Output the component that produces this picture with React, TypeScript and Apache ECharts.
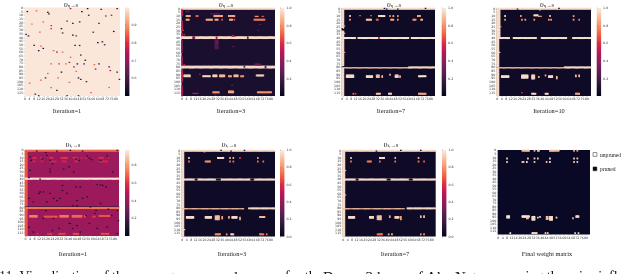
import React, { useEffect, useRef } from "react";
import * as echarts from "echarts";

type Span = [number, number, number, number, number];
type Dot = [number, number, number];

const colLabels = Array.from({ length: 84 }, (_, i) => String(i));
const rowLabels = Array.from({ length: 120 }, (_, i) => String(i));
const rocket = ["#03051a", "#221331", "#451c47", "#6a1f56", "#921c5b", "#b91657", "#dd2c45", "#f06043", "#f5936a", "#f6bfa0", "#faebdd"];

const captions = ["Iteration=1", "Iteration=3", "Iteration=7", "Iteration=10", "Iteration=1", "Iteration=3", "Iteration=7", "Final weight matrix"];
const titleSubs = ["η→8", "η→8", "η→8", "η→8", "f₁→8", "f₁→8", "f₁→8"];
const titleCentres = [71, 226, 394, 547, 73, 229, 391];
const footerTexts = ["11: Visualization of the messages", "and", "for the", "Dense-3 layer of AlexNet,", "using the prior influence"];
const legendNames = ["unpruned", "pruned"];

const dots1: Dot[] = [[2,5,.55],[10,4,.85],[20,6,.55],[21,8,.6],[40,1,.7],[55,1,.55],[50,5,.55],[67,2,.6],[81,1,.6],[56,10,.6],[71,11,.7],[76,10,.7],[6,22,.88],[16,19,.85],[37,18,.7],[42,21,.6],[48,19,.6],[65,21,.65],[23,24,.8],[23,28,.8],[32,28,.55],[33,34,.6],[42,37,.55],[45,38,.7],[13,33,.85],[1,36,.6],[3,38,.55],[78,32,.55],[60,33,.6],[64,47,.55],[68,46,.55],[70,50,.6],[44,51,.6],[48,51,.6],[8,51,.6],[14,52,.85],[16,55,.55],[12,58,.55],[25,58,.85],[28,60,.7],[33,60,.85],[49,64,.6],[40,67,.85],[23,76,.85],[30,76,.8],[36,76,.85],[39,74,.7],[46,76,.55],[52,76,.6],[53,71,.55],[61,77,.85],[65,76,.6],[62,83,.7],[74,80,.6],[75,85,.7],[43,80,.7],[32,87,.55],[45,86,.85],[81,87,.6],[20,89,.85],[18,95,.6],[14,98,.85],[29,95,.85],[47,95,.55],[49,97,.6],[54,100,.6],[83,97,.6],[4,102,.85],[39,101,.85],[23,108,.85],[28,112,.6],[37,119,.7],[47,119,.7],[9,117,.6],[12,119,.7],[58,115,.85],[74,108,.85]];
const spans1: Span[] = [];

const spans2: Span[] = [[0,83,0,1,.97],[0,0,2,10,.55],[0,0,18,30,.55],[0,0,34,38,.5],[0,0,44,60,.35],[0,0,66,78,.45],[0,0,84,100,.55],[0,0,106,119,.5],[0,83,39,41,.97],[0,83,79,81,.97],[10,11,39,41,.35],[31,31,39,41,.45],[59,59,39,41,.3],[56,56,79,80,.2],[75,75,79,81,.2],[4,7,10,11,.85],[13,14,10,11,.7],[29,36,10,11,.85],[42,47,10,11,.85],[66,68,11,11,.8],[72,73,11,11,.65],[4,6,15,16,.85],[22,27,15,16,.85],[30,32,15,16,.85],[36,36,15,16,.65],[43,45,15,16,.85],[47,47,15,16,.65],[65,74,15,16,.75],[2,7,91,93,.95],[19,25,92,93,.95],[28,31,91,93,.95],[34,38,91,93,.9],[42,44,92,93,.85],[47,50,91,93,.9],[53,55,92,93,.8],[67,73,91,92,.95],[28,33,114,115,.8],[42,46,113,115,.85],[68,80,114,115,.8],[10,14,116,116,.5],[30,32,43,55,.24],[45,47,38,38,.45],[66,70,76,77,.3],[4,6,3,5,.2],[26,33,7,8,.2]];
const dots2: Dot[] = [[46,37,.55],[2,36,.6],[1,30,.6],[31,46,.4],[46,52,.3],[2,77,.6],[70,22,.3],[68,30,.25],[16,90,.5],[30,118,.3],[45,105,.3]];

const spans3: Span[] = [[0,83,0,1,.97],[0,1,2,27,.97],[0,1,31,78,.97],[0,83,40,41,.99],[13,13,40,41,.1],[33,33,40,41,.5],[61,61,40,41,.1],[0,59,81,81,.9],[60,83,80,81,.97],[0,1,82,119,.97],[7,7,10,11,.95],[16,16,10,10,.7],[26,26,10,10,.7],[33,38,10,11,.98],[43,43,10,11,.8],[46,46,10,11,.85],[50,50,10,11,.8],[68,70,10,11,.85],[7,7,15,16,.8],[22,26,15,16,.92],[31,32,15,16,.7],[44,46,15,16,.85],[50,50,15,16,.8],[64,66,15,16,.8],[71,72,15,16,.85],[4,10,91,94,.97],[22,27,92,94,.97],[31,33,91,94,.9],[36,36,92,94,.9],[43,43,90,91,.85],[48,50,91,94,.95],[52,52,92,94,.85],[69,75,92,93,.98],[10,10,116,117,.7],[12,12,116,117,.6],[31,34,116,117,.9],[42,44,116,117,.95],[69,75,116,117,.85]];
const dots3: Dot[] = [[0,28,.05],[1,29,.05],[2,34,.9],[2,24,.8],[75,0,.1],[50,1,.1],[40,1,.1],[38,0,.1],[2,60,.8]];

const spans4: Span[] = [[0,83,0,1,.97],[0,2,2,39,.97],[0,83,40,41,.98],[0,1,42,79,.97],[12,13,40,41,.05],[36,38,40,41,.05],[63,66,40,41,.05],[0,59,81,81,.9],[60,83,80,81,.97],[0,1,82,119,.97],[7,7,10,11,.95],[21,21,10,11,.8],[33,36,9,10,.98],[37,39,11,11,.8],[47,47,10,11,.9],[68,68,10,11,.8],[7,7,15,16,.8],[22,22,15,16,.8],[25,25,15,16,.8],[33,33,15,16,.8],[46,46,15,16,.8],[48,48,15,16,.8],[68,68,15,16,.8],[73,73,15,16,.75],[4,10,92,94,.98],[22,27,91,95,.98],[31,33,91,96,.95],[37,37,93,94,.85],[43,43,91,92,.85],[46,49,92,94,.97],[53,53,93,96,.9],[70,70,91,93,.9],[73,73,91,93,.9],[31,34,116,117,.95],[43,45,116,117,.95],[70,73,116,117,.85]];
const dots4: Dot[] = [[2,60,.95],[3,25,.8],[55,0,.1],[18,1,.1],[38,2,.95],[22,115,.6]];

const spans5: Span[] = [[0,83,0,1,.7],[0,1,2,119,.66],[0,83,39,40,.97],[0,83,79,79,.2],[0,83,80,81,.72],[7,9,10,11,.58],[14,14,10,11,.56],[22,24,10,11,.58],[32,37,10,11,.6],[43,46,10,11,.58],[50,50,10,11,.56],[54,54,10,11,.56],[66,69,10,11,.58],[74,74,10,11,.55],[7,8,15,16,.55],[14,15,15,16,.54],[22,27,15,16,.54],[33,36,15,16,.55],[44,46,15,16,.55],[66,73,15,16,.55],[4,10,91,93,.74],[17,28,92,93,.66],[31,38,91,93,.72],[42,50,91,93,.7],[53,53,91,93,.68],[60,62,92,93,.6],[66,75,91,92,.66],[10,11,116,117,.55],[20,23,116,117,.6],[30,35,116,117,.62],[43,47,116,117,.64],[68,74,116,117,.64]];
const dots5: Dot[] = [[10,1,.08],[18,3,.08],[19,7,.08],[28,1,.08],[40,0,.08],[51,1,.08],[55,8,.08],[57,11,.08],[59,13,.08],[82,0,.08],[4,9,.08],[5,14,.08],[15,12,.08],[22,14,.08],[24,19,.08],[45,12,.08],[48,14,.08],[67,14,.08],[73,8,.08],[22,26,.08],[22,30,.08],[34,26,.08],[39,23,.08],[43,30,.08],[78,30,.08],[3,38,.08],[13,40,.08],[4,28,.08],[64,48,.08],[67,48,.08],[69,49,.08],[72,51,.08],[49,51,.08],[45,51,.08],[13,58,.08],[12,60,.08],[16,58,.08],[33,49,.08],[33,56,.08],[22,60,.08],[31,67,.08],[37,60,.08],[55,65,.08],[46,70,.08],[51,67,.08],[3,67,.08],[19,72,.08],[25,67,.08],[28,70,.08],[42,77,.08],[46,77,.08],[67,74,.08],[58,79,.08],[63,84,.08],[74,82,.08],[82,84,.08],[7,72,.08],[18,84,.08],[62,88,.08],[54,91,.08],[77,91,.08],[83,98,.08],[40,102,.08],[39,102,.08],[24,112,.08],[30,109,.08],[46,105,.08],[49,114,.08],[64,109,.08],[7,114,.08],[16,95,.08],[57,102,.08],[25,95,.08],[3,107,.08],[82,116,.08],[73,107,.08],[42,109,.08]];

const spans6: Span[] = [[0,83,0,1,.97],[0,1,2,119,.97],[0,83,40,41,.98],[12,13,40,41,.05],[31,34,40,41,.05],[62,64,40,41,.05],[0,55,81,81,.9],[60,83,80,81,.97],[6,6,10,11,.9],[32,37,10,11,.98],[43,43,10,11,.85],[46,46,10,11,.85],[52,52,10,11,.6],[68,68,10,11,.8],[6,6,15,16,.75],[21,25,15,16,.8],[43,43,15,16,.75],[46,46,15,16,.75],[68,68,15,16,.75],[73,73,15,16,.75],[4,10,92,94,.98],[21,26,92,94,.97],[30,33,91,96,.9],[36,36,92,95,.85],[42,42,92,94,.85],[45,49,92,94,.97],[52,52,93,96,.85],[70,74,92,93,.9],[30,34,116,117,.8],[40,40,116,117,.8],[44,46,116,117,.95],[70,73,116,117,.75],[76,76,116,117,.75]];
const dots6: Dot[] = [[2,110,.95],[35,0,.1],[44,1,.1],[20,2,.95],[56,0,.1]];

const spans7: Span[] = [[0,83,0,1,.97],[0,1,2,119,.97],[0,83,40,41,.98],[12,13,40,41,.05],[40,42,40,41,.05],[60,62,40,41,.05],[0,55,81,81,.9],[58,83,80,81,.97],[7,7,10,11,.9],[33,37,10,11,.98],[47,47,10,11,.85],[68,68,10,11,.85],[7,7,15,16,.75],[22,25,15,16,.75],[33,33,15,16,.75],[47,47,15,16,.75],[68,68,15,16,.75],[73,73,15,16,.7],[5,10,92,94,.98],[24,27,92,94,.97],[31,34,91,96,.9],[42,42,91,93,.85],[47,50,92,94,.95],[52,52,92,96,.85],[70,70,91,93,.9],[73,73,91,93,.9],[31,35,116,117,.75],[41,41,116,117,.85],[44,44,116,117,.9],[70,70,116,117,.8],[73,73,116,117,.8]];
const dots7: Dot[] = [[2,28,.9],[2,62,.9],[30,1,.05],[52,0,.05],[70,0,.05]];

const spans8: Span[] = [[22,28,0,1,.9],[33,33,0,1,.9],[36,37,0,1,.9],[47,55,0,1,.9],[69,69,0,1,.85],[72,72,0,1,.85],[8,8,11,12,.95],[27,27,11,12,.95],[33,33,11,12,.95],[36,36,11,12,.95],[47,47,11,12,.98],[69,69,11,12,.95],[72,72,11,12,.95],[8,8,16,17,.9],[22,23,16,17,.9],[26,26,16,17,.95],[33,33,16,17,.9],[44,44,16,17,.9],[47,47,16,17,.95],[69,69,16,17,.9],[72,72,16,17,.9],[8,10,93,96,.98],[22,28,93,95,.98],[26,27,96,97,.9],[31,33,94,99,.97],[36,36,95,96,.95],[38,38,94,95,.95],[44,45,94,98,.9],[47,49,94,99,.98],[53,53,95,96,.95],[68,68,96,97,.85],[71,73,93,95,.95],[11,11,117,118,.95],[31,35,117,118,.95],[43,43,117,118,.9],[45,45,117,118,.9],[70,70,117,118,.9],[73,73,117,118,.9]];
const dots8: Dot[] = [];

function expand(spans: Span[], dots: Dot[]): Dot[] {
  const out: Dot[] = [];
  for (const [c0, c1, r0, r1, v] of spans) {
    for (let c = c0; c <= c1; c++) for (let r = r0; r <= r1; r++) out.push([c, r, v]);
  }
  return out.concat(dots);
}

const panelData = [[spans1, dots1], [spans2, dots2], [spans3, dots3], [spans4, dots4], [spans5, dots5], [spans6, dots6], [spans7, dots7], [spans8, dots8]] as [Span[], Dot[]][];

const L = [
  { x: 24.5, y: 7.5, w: 95.5, h: 88.5, cb: 125, cap: 67, capY: 107.5 },
  { x: 181.5, y: 8, w: 93.5, h: 88, cb: 280, cap: 231, capY: 107.5 },
  { x: 341.7, y: 8, w: 93.3, h: 88, cb: 441.7, cap: 391, capY: 107.5 },
  { x: 496.7, y: 8, w: 94.3, h: 88, cb: 596.7, cap: 549, capY: 107.5 },
  { x: 25, y: 150, w: 94, h: 86, cb: 125, cap: 73, capY: 250.5 },
  { x: 181.7, y: 150, w: 93.3, h: 86.5, cb: 280, cap: 232, capY: 250.5 },
  { x: 342.7, y: 150, w: 93, h: 86.5, cb: 442, cap: 395, capY: 250.5 },
  { x: 497.7, y: 150, w: 92.3, h: 84.5, cb: -1, cap: 547, capY: 250.5 },
];
const titleTops = [0, 0, 0, 0, 140, 140, 140];
const bases = ["#fae7da", "#1b0f30", "#0f0a26", "#0f0a26", "#9c1a5b", "#0f0a26", "#0f0a26", "#0a0925"];
const ranges = [
  { min: 0.5, max: 1, step: 0.1, hideMin: true, hideMax: true },
  { min: 0, max: 1, step: 0.2, hideMin: true, hideMax: false },
  { min: 0, max: 1, step: 0.2, hideMin: true, hideMax: false },
  { min: 0, max: 1, step: 0.2, hideMin: true, hideMax: false },
  { min: 0, max: 0.97, step: 0.2, hideMin: true, hideMax: true },
  { min: 0, max: 1, step: 0.2, hideMin: false, hideMax: false },
  { min: 0, max: 1, step: 0.2, hideMin: false, hideMax: false },
];

const SERIF = "'Liberation Serif', serif";
const SANS = "'DejaVu Sans', sans-serif";

export default function App() {
  const ref = useRef<HTMLDivElement>(null);
  useEffect(() => {
    const chart = echarts.init(ref.current!, undefined, { renderer: "svg" });
    const grids: any[] = [], xAxes: any[] = [], yAxes: any[] = [], series: any[] = [], visualMaps: any[] = [], titles: any[] = [], graphics: any[] = [];
    const gradStops = rocket.map((color, i) => ({ offset: i / (rocket.length - 1), color }));

    L.forEach((p, i) => {
      grids.push({ left: p.x, top: p.y, width: p.w, height: p.h, show: true, backgroundColor: bases[i], borderWidth: 0 });
      const tick = { show: true, length: 1, lineStyle: { width: 0.3, color: "#333" }, alignWithLabel: true };
      const label = { fontSize: 3.2, color: "#333", margin: 1.5, fontFamily: SANS, hideOverlap: false };
      xAxes.push({ type: "category", gridIndex: i, data: colLabels, axisLine: { show: false }, axisTick: { ...tick, interval: 3 }, axisLabel: { ...label, interval: 3 }, splitLine: { show: false } });
      yAxes.push({ type: "category", gridIndex: i, inverse: true, data: rowLabels, axisLine: { show: false }, axisTick: { ...tick, interval: 4 }, axisLabel: { ...label, interval: 4 }, splitLine: { show: false } });
      series.push({ type: "heatmap", xAxisIndex: i, yAxisIndex: i, data: expand(panelData[i][0], panelData[i][1]), progressive: 0, emphasis: { disabled: true }, itemStyle: { borderWidth: 0 } });
      const r = ranges[i] || { min: 0, max: 1 };
      visualMaps.push({ show: false, seriesIndex: i, min: r.min, max: r.max, inRange: { color: rocket } });
      titles.push({ text: captions[i], left: p.cap, top: p.capY, textAlign: "center", padding: 0, textStyle: { fontFamily: SERIF, fontWeight: "normal", fontSize: 6.4, color: "#222" } });
      if (i < 7) {
        titles.push({
          text: `{v|υ}{s|${titleSubs[i]}}`,
          left: titleCentres[i], top: titleTops[i], textAlign: "center", padding: 0,
          textStyle: { fontWeight: "normal", rich: { v: { fontFamily: SERIF, fontStyle: "italic", fontWeight: "normal", fontSize: 8, color: "#222" }, s: { fontFamily: SERIF, fontWeight: "normal", fontSize: 5, color: "#222", padding: [2, 0, 0, 0] } } },
        });
      }
    });

    ranges.forEach((r, i) => {
      const p = L[i];
      const g = grids.length;
      grids.push({ left: p.cb, top: p.y, width: 4.4, height: p.h, show: true, borderWidth: 0, backgroundColor: new echarts.graphic.LinearGradient(0, 1, 0, 0, gradStops) });
      xAxes.push({ type: "value", gridIndex: g, show: false, min: 0, max: 1 });
      yAxes.push({
        type: "value", gridIndex: g, position: "right", min: r.min, max: r.max, interval: r.step,
        axisLine: { show: false }, splitLine: { show: false },
        axisTick: { show: true, length: 1, lineStyle: { width: 0.3, color: "#333" } },
        axisLabel: { fontSize: 3.2, color: "#333", margin: 2, fontFamily: SANS, showMinLabel: !r.hideMin, showMaxLabel: !r.hideMax, formatter: (v: number) => v.toFixed(1) },
      });
    });

    legendNames.forEach((n, i) => {
      const y = i === 0 ? 152.3 : 166.7;
      graphics.push({ type: "rect", left: 592.8, top: y, shape: { width: 3.8, height: 3.8 }, style: { fill: i === 0 ? "#fff" : "#05051a", stroke: "#222", lineWidth: 0.5 } });
      graphics.push({ type: "text", left: 600, top: y - 0.8, style: { text: n, fill: "#222", font: `5.6px ${SERIF}` } });
    });

    const footX = [-1, 216, 285, 323, 513];
    const footSize = [14, 15, 14, 15, 14];
    footerTexts.forEach((t, i) => {
      graphics.push({ type: "text", left: footX[i], top: 269, style: { text: t, fill: "#111", font: `${footSize[i]}px ${SERIF}` } });
    });

    chart.setOption({
      animation: false,
      backgroundColor: "#fff",
      title: titles,
      grid: grids,
      xAxis: xAxes,
      yAxis: yAxes,
      visualMap: visualMaps,
      series,
      graphic: graphics,
    });
    return () => chart.dispose();
  }, []);
  return <div ref={ref} style={{ position: "fixed", left: 0, top: 0, width: 640, height: 274, filter: "blur(0.4px)" }} />;
}
